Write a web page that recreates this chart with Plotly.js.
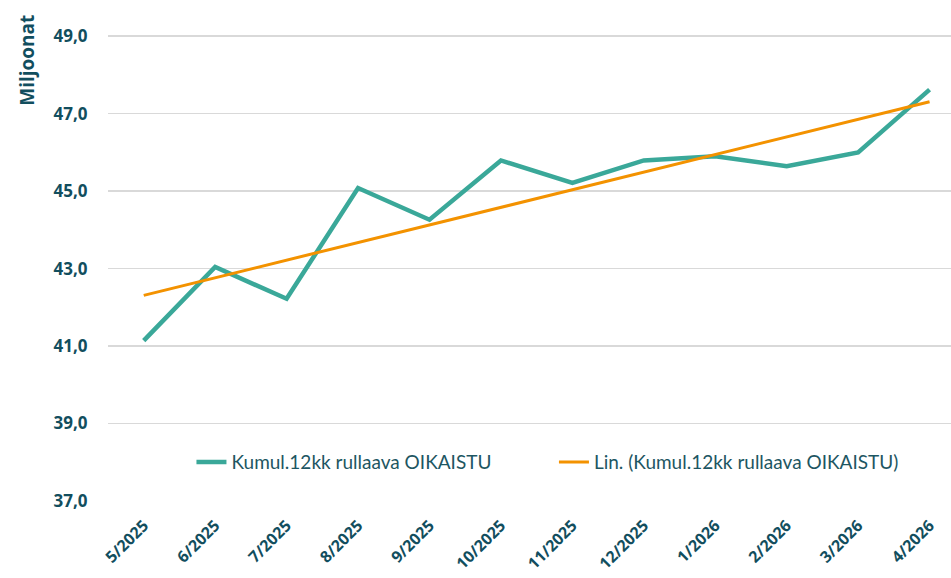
<!DOCTYPE html>
<html>
<head>
<meta charset="utf-8">
<script src="https://cdn.plot.ly/plotly-3.0.1.min.js"></script>
<style>html,body{margin:0;padding:0;background:#fff;}#chart{width:951px;height:578px;}</style>
</head>
<body>
<div id="chart"></div>
<script>
const categories = ["5/2025","6/2025","7/2025","8/2025","9/2025","10/2025","11/2025","12/2025","1/2026","2/2026","3/2026","4/2026"];
const values = [41.14, 43.04, 42.22, 45.08, 44.26, 45.79, 45.21, 45.79, 45.90, 45.64, 46.00, 47.62];
const seriesName = "Kumul.12kk rullaava OIKAISTU";
const trendName = "Lin. (Kumul.12kk rullaava OIKAISTU)";
const yTicks = [37, 39, 41, 43, 45, 47, 49];

// Linear trendline (least squares) computed from the series, as the chart's "Lin." trendline
const n = values.length;
const idx = values.map((_, i) => i + 1);
const mx = idx.reduce((a, b) => a + b, 0) / n;
const my = values.reduce((a, b) => a + b, 0) / n;
let sxy = 0, sxx = 0;
for (let i = 0; i < n; i++) { sxy += (idx[i] - mx) * (values[i] - my); sxx += (idx[i] - mx) ** 2; }
const slope = sxy / sxx, icpt = my - slope * mx;
const trend = idx.map(x => icpt + slope * x);

const textColor = "#124E5E";
const tickFont = "'Open Sans', 'Noto Sans', sans-serif";
const legFont = "Lato, 'Open Sans', sans-serif";
const legendStyle = {orientation: "h", xanchor: "left", y: 0.079, yanchor: "middle",
  bgcolor: "rgba(0,0,0,0)", font: {family: legFont, size: 19, color: "#1D5662"}, itemwidth: 30};

const data = [
  {x: categories, y: values, type: "scatter", mode: "lines", name: seriesName,
   line: {color: "#3AA899", width: 4.5}, cliponaxis: false, legend: "legend"},
  {x: categories, y: trend, type: "scatter", mode: "lines", name: trendName,
   line: {color: "#F39200", width: 3}, cliponaxis: false, legend: "legend2"}
];

const layout = {
  width: 951, height: 578,
  margin: {l: 108, r: 0, t: 9, b: 77},
  paper_bgcolor: "#fff", plot_bgcolor: "#fff",
  separators: ", ",
  showlegend: true,
  legend: Object.assign({}, legendStyle, {x: 0.099}),
  legend2: Object.assign({}, legendStyle, {x: 0.529}),
  xaxis: {type: "category", range: [-0.5, 11.3], showgrid: false, zeroline: false,
          showline: false, tickangle: -45, ticks: "outside", ticklen: 8, tickcolor: "rgba(0,0,0,0)",
          tickfont: {family: tickFont, size: 16, color: textColor, weight: "bold"}},
  yaxis: {range: [37, 49.7], tickvals: yTicks, tickformat: ".1f", showgrid: true,
          gridcolor: "#D9D9D9", gridwidth: 1.5, zeroline: false, showline: false,
          ticks: "outside", ticklen: 16, tickcolor: "rgba(0,0,0,0)",
          tickfont: {family: tickFont, size: 17, color: textColor, weight: "bold"}},
  annotations: [{text: "Miljoonat", xref: "paper", yref: "paper", x: -0.096, y: 0.895,
                 xanchor: "center", yanchor: "middle", textangle: -90, showarrow: false,
                 font: {family: tickFont, size: 19, color: textColor, weight: "bold"}}]
};

Plotly.newPlot("chart", data, layout, {displayModeBar: false, staticPlot: true});
</script>
</body>
</html>
